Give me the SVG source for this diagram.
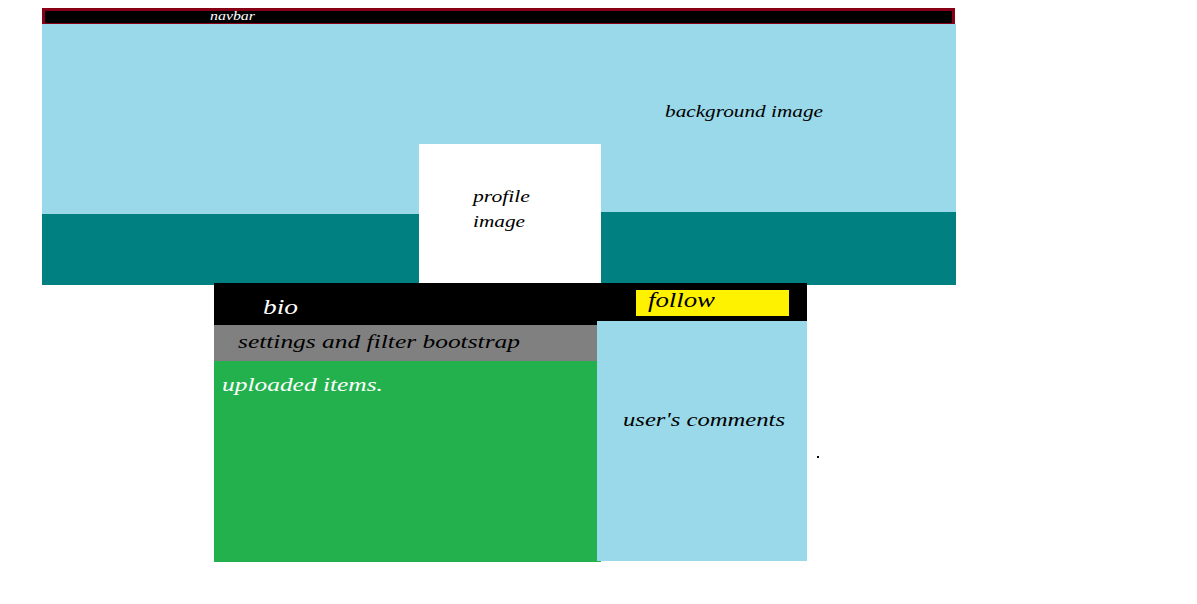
<svg xmlns="http://www.w3.org/2000/svg" width="1197" height="604" viewBox="0 0 1197 604">
<style>
text{font-family:"Liberation Serif","DejaVu Serif",serif;font-style:italic}
.dk{fill:#000}
.wt{fill:#fff}
</style>
<rect x="0" y="0" width="1197" height="604" fill="#fff"/>
<g id="header-bg">
<rect x="42" y="24" width="914" height="190" fill="#99D9EA"/>
<rect x="42" y="214" width="377" height="71" fill="#008080"/>
<rect x="601" y="212" width="355" height="73" fill="#008080"/>
<text class="dk" x="665" y="117" font-size="17" textLength="158" lengthAdjust="spacingAndGlyphs">background image</text>
</g>
<g id="navbar">
<rect x="42" y="8" width="913" height="16" fill="#880015"/>
<rect x="45" y="11" width="907" height="12" fill="#000"/>
<text class="wt" x="210" y="20" font-size="12" textLength="45" lengthAdjust="spacingAndGlyphs">navbar</text>
</g>
<g id="profile-image">
<rect x="419" y="144" width="182" height="139" fill="#fff"/>
<text class="dk" x="473" y="202" font-size="17" textLength="57" lengthAdjust="spacingAndGlyphs">profile</text>
<text class="dk" x="473" y="227" font-size="17" textLength="52" lengthAdjust="spacingAndGlyphs">image</text>
</g>
<g id="bio">
<rect x="214" y="283" width="593" height="42" fill="#000"/>
<text class="wt" x="263" y="314" font-size="20" textLength="35" lengthAdjust="spacingAndGlyphs">bio</text>
</g>
<g id="follow">
<rect x="636" y="290" width="153" height="26" fill="#FFF200"/>
<text class="dk" x="648" y="307" font-size="20" textLength="67" lengthAdjust="spacingAndGlyphs">follow</text>
</g>
<g id="settings">
<rect x="214" y="325" width="383" height="36" fill="#808080"/>
<text class="dk" x="238" y="348" font-size="19" textLength="282" lengthAdjust="spacingAndGlyphs">settings and filter bootstrap</text>
</g>
<g id="uploaded-items">
<rect x="214" y="361" width="387" height="201" fill="#22B14C"/>
<text class="wt" x="222" y="391" font-size="18" textLength="161" lengthAdjust="spacingAndGlyphs">uploaded items.</text>
</g>
<g id="comments">
<rect x="597" y="321" width="210" height="240" fill="#99D9EA"/>
<text class="dk" x="623" y="426" font-size="19" textLength="162" lengthAdjust="spacingAndGlyphs">user's comments</text>
</g>
<g id="connectors"></g>
<rect x="817" y="456" width="2" height="2" fill="#000"/>
</svg>
